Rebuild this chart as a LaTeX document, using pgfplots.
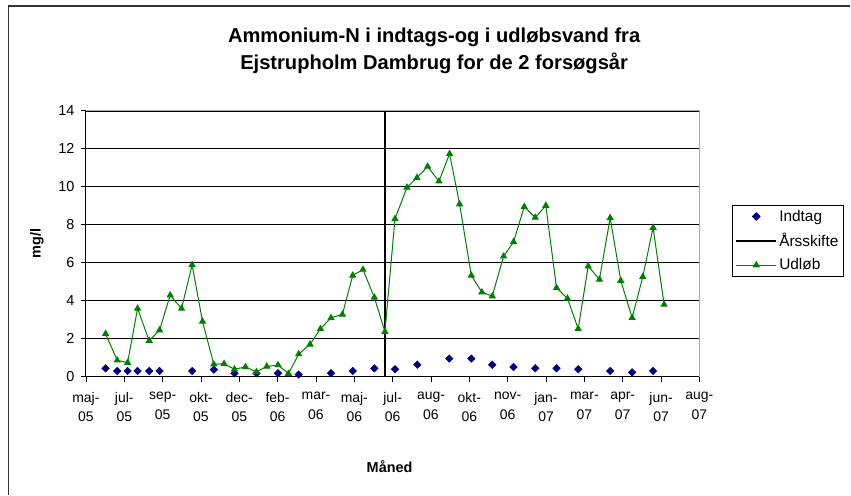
\documentclass[border=0pt]{standalone}
\usepackage{fontspec}
\setmainfont{Liberation Sans}
\usepackage{pgfplots}
\pgfplotsset{compat=1.18}
\definecolor{xlgreen}{RGB}{0,128,0}
\definecolor{xlnavy}{RGB}{0,0,128}

\pgfplotstableread{
x y
0.513 0.44
0.816 0.30
1.087 0.30
1.347 0.30
1.650 0.30
1.921 0.30
2.770 0.30
3.336 0.37
3.875 0.18
4.448 0.18
5.011 0.18
5.550 0.11
6.392 0.18
6.958 0.30
7.523 0.44
8.060 0.39
8.643 0.63
9.476 0.95
10.051 0.95
10.598 0.63
11.153 0.51
11.719 0.44
12.274 0.44
12.839 0.39
13.673 0.30
14.246 0.23
14.793 0.30
}\indtag

\pgfplotstableread{
x y
0.513 2.26
0.816 0.86
1.087 0.74
1.347 3.59
1.650 1.89
1.921 2.45
2.197 4.29
2.494 3.59
2.770 5.89
3.041 2.91
3.336 0.65
3.604 0.68
3.875 0.39
4.162 0.51
4.448 0.25
4.717 0.54
5.011 0.61
5.282 0.16
5.550 1.19
5.845 1.70
6.116 2.52
6.392 3.10
6.689 3.28
6.958 5.33
7.226 5.64
7.523 4.17
7.799 2.37
8.060 8.31
8.373 9.97
8.633 10.48
8.912 11.07
9.207 10.29
9.485 11.74
9.746 9.09
10.051 5.33
10.327 4.45
10.598 4.24
10.893 6.34
11.153 7.10
11.432 8.95
11.719 8.38
11.995 9.01
12.274 4.68
12.560 4.12
12.839 2.52
13.100 5.82
13.394 5.12
13.673 8.36
13.950 5.06
14.246 3.10
14.523 5.26
14.793 7.85
15.080 3.80
}\udlob

\begin{document}
\begin{tikzpicture}
\path (0,0) rectangle (851bp,495bp);
% chart frame (cut off at right and bottom)
\draw[line width=1.5bp, black!80] (8.5bp,0) -- (8.5bp,489bp) -- (851bp,489bp);
\node[align=center, font=\fontsize{20.2}{27}\selectfont\bfseries] at (434.5bp,444bp)
  {Ammonium-N i indtags-og i udløbsvand fra\\Ejstrupholm Dambrug for de 2 forsøgsår};

\begin{axis}[
  at={(86bp,118bp)}, anchor=south west,
  width=614bp, height=266bp, scale only axis,
  xmin=0, xmax=16, ymin=0, ymax=14,
  axis lines*=left,
  axis line style={black, line width=0.9bp},
  xtick={0,...,16},
  xticklabels={{maj-\\05},{jul-\\05},{sep-\\05},{okt-\\05},{dec-\\05},{feb-\\06},{mar-\\06},{maj-\\06},{jul-\\06},{aug-\\06},{okt-\\06},{nov-\\06},{jan-\\07},{mar-\\07},{apr-\\07},{jun-\\07},{aug-\\07}},
  xticklabel style={align=center, font=\fontsize{14}{19.5}\selectfont, yshift=-7bp},
  ytick={0,2,...,14},
  yticklabel style={font=\fontsize{14.5}{16}\selectfont, xshift=-3bp},
  /pgf/number format/assume math mode=true,
  tick align=outside,
  major tick length=5bp,
  tick style={black, line width=0.8bp},
  ymajorgrids=true,
  major grid style={black, line width=0.75bp},
  xlabel={\bfseries Måned},
  xlabel style={font=\fontsize{14.5}{16}\selectfont, at={(axis description cs:0.495,-0.34)}, anchor=center},
  ylabel={\bfseries mg/l},
  ylabel style={font=\fontsize{14.5}{16}\selectfont, at={(axis description cs:-0.0798,0.5)}, anchor=center},
  clip=false,
  legend style={at={(axis description cs:1.053,0.6466)}, anchor=north west,
    draw=black, line width=0.8bp, fill=white,
    font=\fontsize{15.5}{17}\selectfont, inner xsep=3bp, inner ysep=3bp,
    row sep=6.5bp, cells={anchor=west}},
  legend image code/.code={\draw[mark repeat=2,mark phase=2,#1] plot coordinates {(0bp,0bp)(20bp,0bp)(40bp,0bp)};},
]
\addplot[only marks, mark=square*, mark size=2.7bp, mark options={rotate=45}, color=xlnavy] table {\indtag};
\addlegendentry{Indtag}
\addplot[black, line width=2bp] coordinates {(7.79,0) (7.79,14)};
\addlegendentry{Årsskifte}
\addplot[xlgreen, line width=1bp, mark=triangle*, mark size=3.3bp, mark options={solid}] table {\udlob};
\addlegendentry{Udløb}
\draw[gray!70, line width=1.2bp] (rel axis cs:0,1) -- (rel axis cs:1,1) -- (rel axis cs:1,0);
\end{axis}
\end{tikzpicture}
\end{document}
